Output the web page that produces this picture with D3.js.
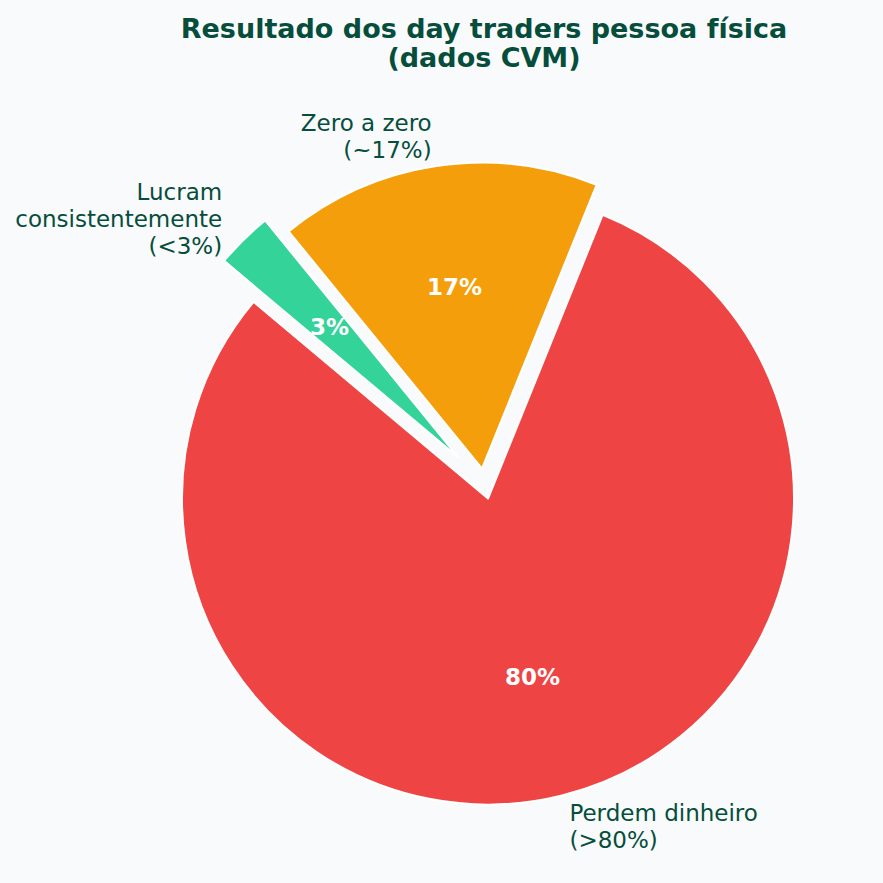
<!DOCTYPE html>
<html>
<head>
<meta charset="utf-8">
<script src="https://cdn.jsdelivr.net/npm/d3@7"></script>
<style>
  body { margin: 0; background: #f8fafc; }
  svg { display: block; }
</style>
</head>
<body>
<div class="chart"></div>
<script>
// chart data
var categories = ["Perdem dinheiro\n(>80%)", "Zero a zero\n(~17%)", "Lucram\nconsistentemente\n(<3%)"];
var values = [80, 17, 3];
var pctLabels = ["80%", "17%", "3%"];
var colors = ["#ef4444", "#f59e0b", "#34d399"];
var explode = [0.05, 0.05, 0.12];

var svgWidth = 883, svgHeight = 883;
var cx = 484.3, cy = 483.7, radius = 306;
var textColor = "#064e3b";

var svg = d3.select(".chart")
  .append("svg")
  .attr("width", svgWidth)
  .attr("height", svgHeight);

svg.append("rect")
  .attr("width", svgWidth)
  .attr("height", svgHeight)
  .attr("fill", "#f8fafc");

// title
var titleLines = ["Resultado dos day traders pessoa física", "(dados CVM)"];
svg.append("g").selectAll("text")
  .data(titleLines)
  .enter()
  .append("text")
  .attr("x", 484)
  .attr("y", (d, i) => 38 + i * 29)
  .attr("text-anchor", "middle")
  .attr("font-family", "DejaVu Sans")
  .attr("font-weight", "bold")
  .attr("font-size", 27)
  .attr("fill", textColor)
  .text(d => d);

// matplotlib startangle=140, counterclockwise -> d3 angles
var start = (90 - 140) * Math.PI / 180;
var pie = d3.pie()
  .sort(null)
  .value(d => d)
  .startAngle(start)
  .endAngle(start - 2 * Math.PI);

var arcs = pie(values);
var arc = d3.arc().innerRadius(0).outerRadius(radius);

var chartGroup = svg.append("g")
  .attr("transform", `translate(${cx}, ${cy})`);

function offset(d, i, k) {
  var mid = (d.startAngle + d.endAngle) / 2;
  return [k * radius * Math.sin(mid), -k * radius * Math.cos(mid)];
}

var slices = chartGroup.selectAll("g.slice")
  .data(arcs)
  .enter()
  .append("g")
  .attr("class", "slice")
  .attr("transform", (d, i) => {
    var o = offset(d, i, explode[i]);
    return `translate(${o[0]}, ${o[1]})`;
  });

slices.append("path")
  .attr("d", arc)
  .attr("fill", (d, i) => colors[i])
  .attr("stroke", "white")
  .attr("stroke-width", 2)
  .attr("stroke-linejoin", "round");

// percentage labels
slices.append("text")
  .attr("x", (d, i) => offset(d, i, 0.6)[0])
  .attr("y", (d, i) => offset(d, i, 0.6)[1])
  .attr("text-anchor", "middle")
  .attr("dominant-baseline", "central")
  .attr("font-family", "DejaVu Sans")
  .attr("font-weight", "bold")
  .attr("font-size", 23)
  .attr("fill", "white")
  .text((d, i) => pctLabels[i]);

// category labels
slices.each(function(d, i) {
  var p = offset(d, i, 1.1);
  var lines = categories[i].split("\n");
  var anchor = p[0] < 0 ? "end" : "start";
  var lh = 27;
  d3.select(this).selectAll("text.label")
    .data(lines)
    .enter()
    .append("text")
    .attr("class", "label")
    .attr("x", p[0])
    .attr("y", (t, j) => p[1] + 1 + (j - (lines.length - 1) / 2) * lh)
    .attr("text-anchor", anchor)
    .attr("dominant-baseline", "central")
    .attr("font-family", "DejaVu Sans")
    .attr("font-size", 23)
    .attr("fill", textColor)
    .text(t => t);
});
</script>
</body>
</html>
